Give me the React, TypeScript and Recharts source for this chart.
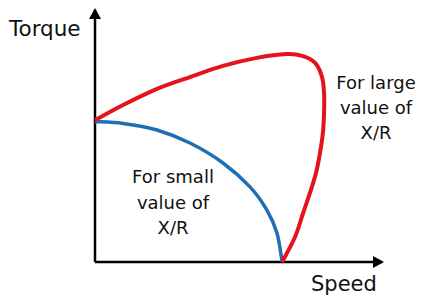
import React from "react";
import { LineChart, Line, XAxis, YAxis, ReferenceDot, ReferenceLine, Customized } from "recharts";

// Torque–speed characteristic for two X/R ratios (speed and torque in % of axis range)
const largeSpeed = [0, 9.8, 21.6, 33.1, 44.6, 56.4, 66.9, 72.5, 76.7, 79.1, 79.8, 79.8, 79.4, 78.4, 77.0, 74.9, 72.5, 69.7, 65.2];
const largeTorque = [56.3, 62.3, 68.7, 73.4, 77.8, 81.0, 82.5, 81.7, 79.0, 73.4, 67.1, 59.1, 51.2, 43.3, 35.3, 27.4, 19.4, 9.9, 0];

const smallSpeed = [0, 9.8, 21.6, 33.1, 44.6, 54.0, 59.9, 63.4, 65.2];
const smallTorque = [55.7, 55.0, 52.4, 47.2, 39.3, 29.8, 20.6, 11.5, 0];

const largeLabel = ["For large", "value of", "X/R"];
const smallLabel = ["For small", "value of", "X/R"];

const largeData = largeSpeed.map((s, i) => ({ speed: s, torque: largeTorque[i] }));
const smallData = smallSpeed.map((s, i) => ({ speed: s, torque: smallTorque[i] }));

const FONT = "'DejaVu Sans', sans-serif";

// Catmull-Rom spline through every point; works for paths that turn back on x.
const catmullRom = (context: any) => {
  let pts: number[][] = [];
  return {
    areaStart() {},
    areaEnd() {},
    lineStart() {
      pts = [];
    },
    point(x: number, y: number) {
      pts.push([+x, +y]);
    },
    lineEnd() {
      if (!pts.length) return;
      context.moveTo(pts[0][0], pts[0][1]);
      for (let i = 0; i < pts.length - 1; i++) {
        const p0 = pts[i - 1] || pts[i];
        const p1 = pts[i];
        const p2 = pts[i + 1];
        const p3 = pts[i + 2] || pts[i + 1];
        context.bezierCurveTo(
          p1[0] + (p2[0] - p0[0]) / 6,
          p1[1] + (p2[1] - p0[1]) / 6,
          p2[0] - (p3[0] - p1[0]) / 6,
          p2[1] - (p3[1] - p1[1]) / 6,
          p2[0],
          p2[1]
        );
      }
    },
  };
};

const RightArrow = (props: any) => {
  const { cx, cy } = props;
  return <path d={`M${cx + 2},${cy} L${cx - 9},${cy - 6} L${cx - 9},${cy + 6} Z`} fill="#000" />;
};

const UpArrow = (props: any) => {
  const { cx, cy } = props;
  return <path d={`M${cx},${cy - 2} L${cx - 6},${cy + 9} L${cx + 6},${cy + 9} Z`} fill="#000" />;
};

const Annotations = () => (
  <g fontFamily={FONT} fill="#111">
    <text x={9} y={36} fontSize={21.5}>Torque</text>
    <text x={311} y={291} fontSize={21}>Speed</text>
    {largeLabel.map((t, i) => (
      <text key={t} x={376} y={89 + i * 25} fontSize={18} textAnchor="middle">{t}</text>
    ))}
    {smallLabel.map((t, i) => (
      <text key={t} x={173} y={183 + i * 25.5} fontSize={18} textAnchor="middle">{t}</text>
    ))}
  </g>
);

export default function App() {
  return (
    <div style={{ position: "absolute", left: 0, top: 0, background: "#fff" }}>
      <LineChart width={443} height={306} margin={{ top: 10, right: 61, bottom: 44, left: 95 }}>
        <XAxis type="number" dataKey="speed" domain={[0, 100]} hide />
        <YAxis type="number" dataKey="torque" domain={[0, 100]} hide />
        <ReferenceLine x={0} stroke="#000" strokeWidth={2.5} ifOverflow="visible" />
        <ReferenceLine y={0} stroke="#000" strokeWidth={2.5} ifOverflow="visible" />
        <Line
          data={smallData}
          dataKey="torque"
          type={catmullRom as any}
          stroke="#1f6fb5"
          strokeWidth={3.5}
          dot={false}
          isAnimationActive={false}
        />
        <Line
          data={largeData}
          dataKey="torque"
          type={catmullRom as any}
          stroke="#e5141c"
          strokeWidth={4}
          dot={false}
          isAnimationActive={false}
        />
        <ReferenceDot x={100} y={0} r={0} shape={RightArrow} ifOverflow="visible" />
        <ReferenceDot x={0} y={100} r={0} shape={UpArrow} ifOverflow="visible" />
        <Customized component={Annotations} />
      </LineChart>
    </div>
  );
}
